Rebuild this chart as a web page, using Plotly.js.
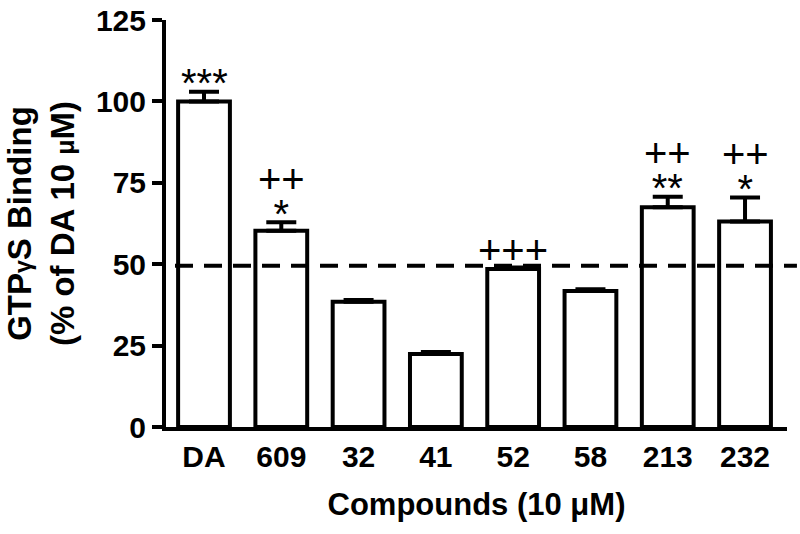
<!DOCTYPE html>
<html><head><meta charset="utf-8">
<script src="https://cdn.plot.ly/plotly-3.0.1.min.js"></script>
<style>html,body{margin:0;padding:0;background:#fff}#chart{width:800px;height:534px}</style>
</head><body><div id="chart"></div>
<script>
// ---- data ----
const compounds = ['DA', '609', '32', '41', '52', '58', '213', '232'];
const binding = [100, 60.3, 38.5, 22.4, 48.5, 41.8, 67.5, 63.1];
const sem = [3.0, 2.6, 0.5, 0.6, 0.5, 0.5, 3.2, 7.4];
const sigStars = ['***', '*', '', '', '', '', '**', '*'];
const sigPlus = ['', '++', '', '', '+++', '', '++', '++'];
const referenceLevel = 49.5;
const yTicks = [0, 25, 50, 75, 100, 125];

// ---- styling ----
const FONT = '"Liberation Sans", Arial, Helvetica, sans-serif';
const big = s => '<span style="font-size:40px">' + s + '</span>';

const annotations = [];
compounds.forEach((c, i) => {
  const lines = [];
  if (sigPlus[i]) lines.push(sigPlus[i]);
  if (sigStars[i]) lines.push(sigStars[i]);
  if (!lines.length) return;
  const last = lines[lines.length - 1];
  const lastIsStar = last.indexOf('*') >= 0;
  annotations.push({
    x: i, y: binding[i] + sem[i], xref: 'x', yref: 'y',
    text: lines.map(big).join('<br>'),
    showarrow: false, xanchor: 'center', yanchor: 'bottom', align: 'center',
    yshift: lastIsStar ? -15.5 : -6.5,
    font: {family: FONT, size: 27, color: '#000'}
  });
});

const trace = {
  type: 'bar',
  x: compounds,
  y: binding,
  width: 0.67,
  marker: {color: '#ffffff', line: {color: '#000', width: 4}},
  error_y: {type: 'data', symmetric: false, array: sem, arrayminus: sem.map(() => 0),
            color: '#000', thickness: 4, width: 15},
  hoverinfo: 'x+y'
};

const layout = {
  width: 800, height: 534,
  margin: {l: 166, r: 13, t: 20, b: 107, pad: 0},
  paper_bgcolor: '#fff', plot_bgcolor: '#fff',
  showlegend: false,
  font: {family: FONT, color: '#000'},
  xaxis: {
    type: 'category',
    range: [-0.4917, 7.543],
    showline: true, linecolor: '#000', linewidth: 4,
    ticks: '', showgrid: false, zeroline: false,
    ticklabelstandoff: 0,
    tickfont: {family: FONT, size: 30, weight: 'bold', color: '#000'},
    title: {text: 'Compounds (10 μM)', font: {family: FONT, size: 31, weight: 'bold', color: '#000'}, standoff: 22}
  },
  yaxis: {
    range: [0, 125],
    tickvals: yTicks,
    showline: true, linecolor: '#000', linewidth: 4,
    ticks: 'outside', ticklen: 10, tickwidth: 4, tickcolor: '#000',
    showgrid: false, zeroline: false,
    tickfont: {family: FONT, size: 30, weight: 'bold', color: '#000'},
    title: {text: 'GTP<span style="font-size:23px">γ</span>S Binding<br>(% of DA 10 <span style="font-size:25px">μ</span>M)',
            font: {family: FONT, size: 33, weight: 'bold', color: '#000'}, standoff: 12}
  },
  shapes: [{
    type: 'line', xref: 'paper', yref: 'y',
    x0: 0.0145, x1: 1.016, y0: referenceLevel, y1: referenceLevel,
    line: {color: '#000', width: 4, dash: '18px,11px'}, layer: 'above'
  }],
  annotations: annotations
};

Plotly.newPlot('chart', [trace], layout, {displayModeBar: false, staticPlot: true});
</script>
</body></html>
